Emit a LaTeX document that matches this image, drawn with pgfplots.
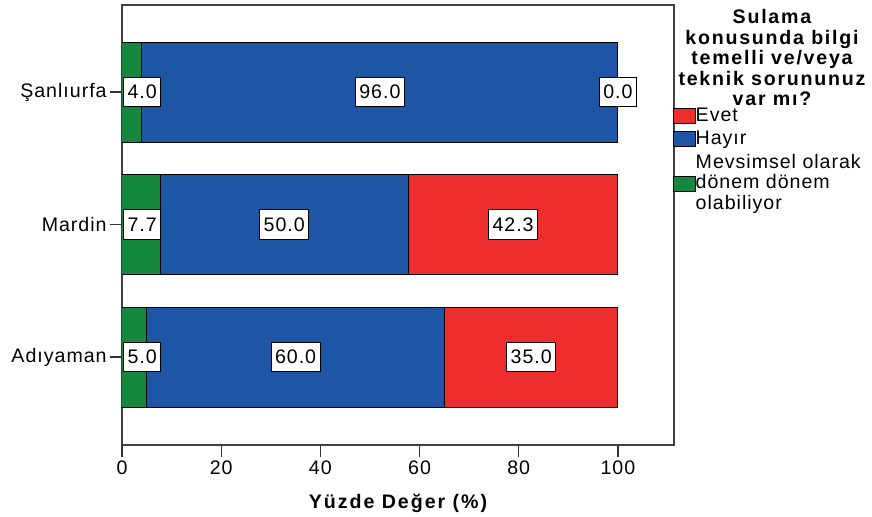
\documentclass[border=0pt]{standalone}
\usepackage{fontspec}
\setmainfont{Liberation Sans}[LetterSpace=5]
\usepackage{pgfplots}
\pgfplotsset{compat=1.18}
\definecolor{cred}{RGB}{238,46,46}
\definecolor{cblue}{RGB}{31,85,165}
\definecolor{cgreen}{RGB}{21,135,62}
\begin{document}
\fontsize{9.8pt}{10.4pt}\selectfont
\begin{tikzpicture}[font=\fontsize{9.8pt}{10.4pt}\selectfont,
  lbl/.style={draw=black, line width=0.5pt, fill=white, inner xsep=2pt, inner ysep=4pt, font=\fontsize{9.8pt}{10.4pt}\selectfont, text=black}]
\useasboundingbox (-61pt,-36pt) rectangle (375pt,222.5pt);
\begin{axis}[
  scale only axis, width=276pt, height=220pt,
  xbar stacked, bar width=50pt,
  xmin=0, xmax=111.3, ymin=-0.664, ymax=2.657,
  xtick={0,20,...,100}, ytick={0,1,2},
  yticklabels={Adıyaman,Mardin,Şanlıurfa},
  tick align=outside, xtick pos=bottom, ytick pos=left,
  major tick length=6pt,
  axis line style={draw=black!75, line width=0.6pt},
  tick style={draw=black!80, line width=0.6pt},
  /pgf/number format/assume math mode=true,
  yticklabel style={inner sep=0pt, xshift=-1.5pt},
  xticklabel style={inner sep=1.5pt},
  xlabel={\bfseries\addfontfeatures{LetterSpace=10}Yüzde Değer (\%)},
  xlabel style={at={(axis description cs:0.5,-0.1318)}, anchor=center},
  legend style={at={(axis description cs:0.998,0.766)}, anchor=north west, draw=none, fill=none, inner sep=0pt, outer sep=0pt, row sep=3.2pt, nodes={inner sep=0pt, anchor=west}, /tikz/every even column/.append style={column sep=2.5pt}},
  legend cell align=left,
  legend image code/.code={\draw[#1, draw=black, line width=0.4pt] (0pt,-3.75pt) rectangle (11pt,3.75pt);},
  reverse legend,
]
\addplot[fill=cgreen, draw=black, line width=0.5pt,
  legend image code/.code={\draw[fill=cgreen, draw=black, line width=0.4pt] (0pt,-7.25pt) rectangle (11pt,0.25pt);}] coordinates {(5,0) (7.7,1) (4,2)};
\addlegendentry{\raisebox{3.4pt}{\begin{tabular}{@{}l@{}}Mevsimsel olarak\\dönem dönem\\olabiliyor\end{tabular}}}
\addplot[fill=cblue, draw=black, line width=0.5pt] coordinates {(60,0) (50,1) (96,2)};
\addlegendentry{Hayır\rule[-5.5pt]{0pt}{1pt}}
\addplot[fill=cred, draw=black, line width=0.5pt] coordinates {(35,0) (42.3,1) (0,2)};
\addlegendentry{Evet}
\end{axis}
\begin{axis}[
  scale only axis, width=276pt, height=220pt,
  xmin=0, xmax=111.3, ymin=-0.664, ymax=2.657,
  hide axis, clip=false,
]
\addplot[draw=none, mark=none, nodes near coords, point meta=explicit symbolic,
  nodes near coords align=center, every node near coord/.append style={lbl, anchor=center}]
  coordinates {(52,2) [96.0] (100,2) [0.0] (32.7,1) [50.0] (78.85,1) [42.3] (35,0) [60.0] (82.5,0) [35.0]};
\addplot[draw=none, mark=none, nodes near coords, point meta=explicit symbolic,
  nodes near coords align=west, every node near coord/.append style={lbl, anchor=west, xshift=0.5pt}]
  coordinates {(0,2) [4.0] (0,1) [7.7] (0,0) [5.0]};
\node[anchor=north, align=center, inner sep=0pt, font=\fontsize{9.8pt}{10.2pt}\selectfont\bfseries\addfontfeatures{LetterSpace=9}] at (axis description cs:1.1775,0.99) {Sulama\\konusunda bilgi\\temelli ve/veya\\teknik sorununuz\\var mı?};
\end{axis}
\end{tikzpicture}
\end{document}
